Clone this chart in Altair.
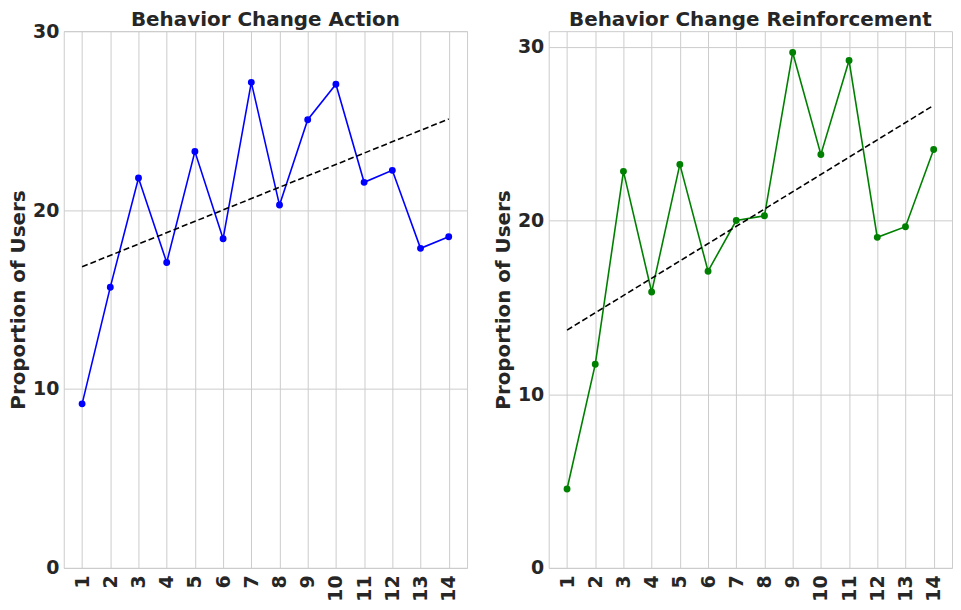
import altair as alt
import pandas as pd

weeks = list(range(1, 15))
action_vals = [9.17, 15.69, 21.79, 17.07, 23.27, 18.40, 27.14, 20.28, 25.05, 27.03, 21.55, 22.22, 17.86, 18.51]
reinf_vals = [4.54, 11.72, 22.83, 15.88, 23.23, 17.08, 20.00, 20.27, 29.67, 23.80, 29.21, 19.03, 19.64, 24.09]
trend_x = [1, 14]
action_trend = [16.83, 25.09]
reinf_trend = [13.69, 26.63]
y_ticks = [0, 10, 20, 30]

FONT = "DejaVu Sans"
W, H = 405, 539


def panel(title, vals, trend, color, ymax):
    df = pd.DataFrame({"week": weeks, "value": vals})
    tdf = pd.DataFrame({"week": trend_x, "value": trend})
    x = alt.X("week:Q", title=None,
              scale=alt.Scale(domain=[0.35, 14.65], nice=False, zero=False),
              axis=alt.Axis(values=weeks, format="d", labelAngle=-90, labelPadding=7))
    y = alt.Y("value:Q", title="Proportion of Users",
              scale=alt.Scale(domain=[0, ymax], nice=False),
              axis=alt.Axis(values=y_ticks, format="d", labelPadding=5, titlePadding=4))
    line = alt.Chart(df).mark_line(color=color, strokeWidth=1.6).encode(x=x, y=y)
    pts = alt.Chart(df).mark_circle(color=color, size=48, opacity=1).encode(x=x, y=y)
    tr = alt.Chart(tdf).mark_line(color="black", strokeWidth=1.6, strokeDash=[6, 3]).encode(x=x, y=y)
    ttl = alt.Chart(pd.DataFrame({"t": [title]})).mark_text(
        font=FONT, fontSize=20, fontWeight="bold", color="#262626",
        align="center", baseline="alphabetic"
    ).encode(x=alt.value(W / 2), y=alt.value(-5), text="t:N")
    return alt.layer(line, pts, tr, ttl).properties(width=W, height=H)


left = panel("Behavior Change Action", action_vals, action_trend, "#0000ff", 30)
right = panel("Behavior Change Reinforcement", reinf_vals, reinf_trend, "#008000", 30.9)

chart = alt.hconcat(left, right, spacing=25).properties(
    padding={"left": 0, "top": 0, "right": 0, "bottom": 0}
).configure_axis(
    labelFont=FONT, labelFontWeight="bold", labelFontSize=19, labelColor="#262626",
    titleFont=FONT, titleFontWeight="bold", titleFontSize=20, titleColor="#262626",
    gridColor="#cccccc", gridWidth=1, domain=False, ticks=False,
).configure_view(
    stroke="#cccccc", strokeWidth=1
)

chart.save("out.html", embed_options={"renderer": "svg", "actions": False})
